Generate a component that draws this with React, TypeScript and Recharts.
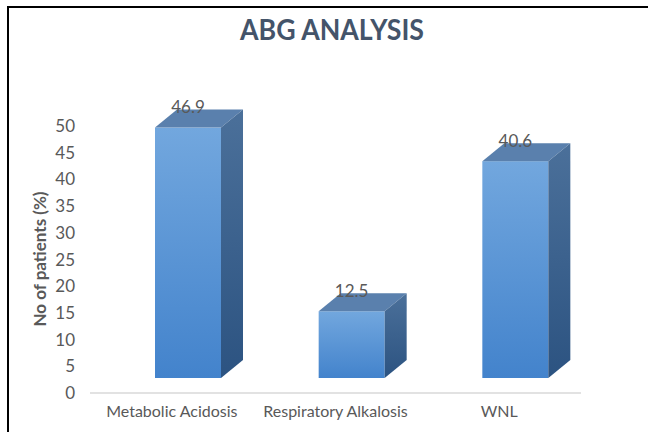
import React from "react";
import { BarChart, Bar, XAxis, YAxis, LabelList } from "recharts";

const categories = ["Metabolic Acidosis", "Respiratory Alkalosis", "WNL"];
const values = [46.9, 12.5, 40.6];
const yTicks = [0, 5, 10, 15, 20, 25, 30, 35, 40, 45, 50];
const title = "ABG ANALYSIS";
const yLabel = "No of patients (%)";

const data = categories.map((c, i) => ({ name: c, value: values[i] }));

const OFF_X = 16;
const OFF_Y = 15;
const DX = 22;
const DY = 18;

const Bar3D = (props: any) => {
  const { x, y, width, height } = props;
  if (width == null || height == null) return null;
  const x0 = x + OFF_X;
  const y0 = y - OFF_Y;
  const w = width;
  const h = height;
  const top = `${x0},${y0} ${x0 + DX},${y0 - DY} ${x0 + w + DX},${y0 - DY} ${x0 + w},${y0}`;
  const side = `${x0 + w},${y0} ${x0 + w + DX},${y0 - DY} ${x0 + w + DX},${y0 + h - DY} ${x0 + w},${y0 + h}`;
  return (
    <g>
      <rect x={x0} y={y0} width={w} height={h} fill="url(#frontGrad)" />
      <polygon points={top} fill="#5a80ad" />
      <polygon points={side} fill="url(#sideGrad)" />
    </g>
  );
};

const ValueLabel = (props: any) => {
  const { x, y, width, value } = props;
  return (
    <text
      x={x + OFF_X + width / 2}
      y={y - OFF_Y - 19}
      textAnchor="middle"
      dominantBaseline="middle"
      fontSize={17}
      fill="#595959"
      fontFamily="Lato, sans-serif"
    >
      {value}
    </text>
  );
};

export default function App() {
  return (
    <div style={{ position: "fixed", left: 0, top: 0, width: 648, height: 432, background: "#fff" }}>
      <BarChart
        width={648}
        height={432}
        data={data}
        margin={{ top: 126, right: 67, bottom: 9, left: 30 }}
        style={{ fontFamily: "Lato, sans-serif" }}
      >
        <defs>
          <linearGradient id="frontGrad" x1="0" y1="0" x2="0" y2="1">
            <stop offset="0%" stopColor="#72a7de" />
            <stop offset="100%" stopColor="#4383cc" />
          </linearGradient>
          <linearGradient id="sideGrad" x1="0" y1="0" x2="0" y2="1">
            <stop offset="0%" stopColor="#4b709a" />
            <stop offset="100%" stopColor="#2c5381" />
          </linearGradient>
        </defs>
        <XAxis
          dataKey="name"
          height={30}
          axisLine={{ stroke: "#d9d9d9", strokeWidth: 1.5 }}
          tickLine={false}
          tickSize={0}
          tickMargin={13}
          tick={{ fill: "#595959", fontSize: 16 }}
        />
        <YAxis
          domain={[0, 50]}
          ticks={yTicks}
          width={60}
          axisLine={false}
          tickLine={false}
          tickSize={0}
          tickMargin={15}
          tick={{ fill: "#595959", fontSize: 17 }}
          interval={0}
        />
        <Bar dataKey="value" barSize={66} shape={Bar3D} isAnimationActive={false}>
          <LabelList dataKey="value" content={ValueLabel} />
        </Bar>
      </BarChart>
      <svg
        width={648}
        height={432}
        style={{ position: "absolute", left: 0, top: 0, pointerEvents: "none" }}
      >
        <line x1={8} y1={7} x2={648} y2={7} stroke="#000" strokeWidth={2} />
        <line x1={8} y1={6} x2={8} y2={432} stroke="#000" strokeWidth={2} />
        <text
          x={332}
          y={40}
          textAnchor="middle"
          fontSize={28}
          fontWeight="bold"
          fill="#44546a"
          fontFamily="Lato, sans-serif"
          textLength={184}
          lengthAdjust="spacingAndGlyphs"
        >
          {title}
        </text>
        <text
          x={42}
          y={259}
          transform="rotate(-90 42 259)"
          textAnchor="middle"
          dominantBaseline="middle"
          fontSize={17}
          fontWeight="bold"
          fill="#595959"
          fontFamily="Lato, sans-serif"
        >
          {yLabel}
        </text>
      </svg>
    </div>
  );
}
